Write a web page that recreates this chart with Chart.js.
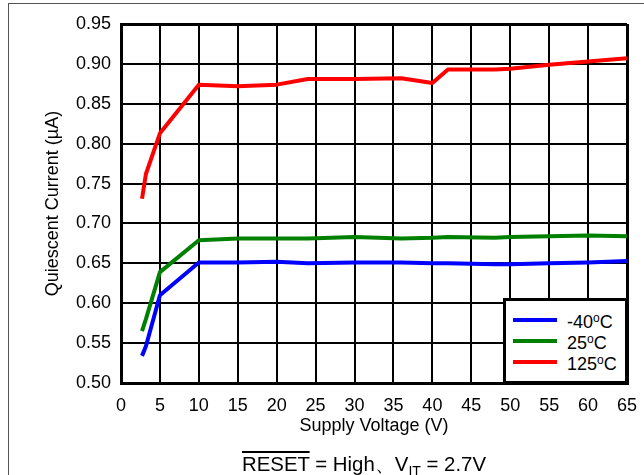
<!DOCTYPE html>
<html>
<head>
<meta charset="utf-8">
<script src="https://cdn.jsdelivr.net/npm/chart.js@4.4.0/dist/chart.umd.min.js"></script>
<style>
  html, body { margin: 0; padding: 0; background: #fff; }
  #wrap { position: relative; width: 644px; height: 475px; overflow: hidden;
          font-family: "Liberation Sans", Arial, sans-serif; color: #000; }
  #frame { position: absolute; left: 8px; top: 3px; width: 700px; height: 600px;
           border-left: 1px solid #555; border-top: 1px solid #555; }
  canvas { position: absolute; left: 0; top: 0; }
  #legend { position: absolute; left: 503px; top: 298px; width: 125px; height: 86px;
            box-sizing: border-box; border: 3px solid #000; background: #fff; }
  .swatch { position: absolute; left: 7px; width: 44px; height: 4px; }
  .lbl { position: absolute; left: 61px; font-size: 18px; line-height: 20px; white-space: nowrap; }
  .lbl sup { font-size: 12px; vertical-align: 6px; line-height: 0; }
  #caption { position: absolute; left: 0; top: 454px; width: 728px; text-align: center;
             font-size: 20.4px; line-height: 20px; white-space: nowrap; }
  #caption .ov { text-decoration: overline; }
  #caption sub { font-size: 14px; vertical-align: -5px; line-height: 0; }
</style>
</head>
<body>
<div id="wrap">
  <div id="frame"></div>
  <canvas id="chart" width="644" height="475"></canvas>
  <div id="legend"></div>
  <div id="caption"><span class="ov">RESET</span> = High、V<sub>IT</sub> = 2.7V</div>
</div>
<script>
// Supply voltage sweep (V)
const voltage = [2.7, 3.2, 5, 10, 15, 20, 24, 30, 36, 40, 42, 48, 50, 55, 60, 65];
// Quiescent current (µA) at each temperature
const iqMinus40 = [0.534, 0.546, 0.610, 0.651, 0.651, 0.652, 0.650, 0.651, 0.651, 0.650, 0.650, 0.649, 0.649, 0.650, 0.651, 0.653];
const iq25      = [0.565, 0.580, 0.639, 0.679, 0.681, 0.681, 0.681, 0.683, 0.681, 0.682, 0.683, 0.682, 0.683, 0.684, 0.685, 0.684];
const iq125     = [0.731, 0.762, 0.813, 0.874, 0.872, 0.874, 0.881, 0.881, 0.882, 0.876, 0.893, 0.893, 0.894, 0.899, 0.903, 0.907];

const temperatures = ['-40', '25', '125'];
const lineColors = ['#0000ff', '#008000', '#ff0000'];
const seriesValues = [iqMinus40, iq25, iq125];

const xTickValues = [0, 5, 10, 15, 20, 25, 30, 35, 40, 45, 50, 55, 60, 65];
const yTickValues = [0.50, 0.55, 0.60, 0.65, 0.70, 0.75, 0.80, 0.85, 0.90, 0.95];

const FONT = '"Liberation Sans", Arial, sans-serif';
Chart.defaults.font.family = FONT;
Chart.defaults.font.size = 18;
Chart.defaults.color = '#000';

const datasets = temperatures.map((t, i) => ({
  label: t + '°C',
  data: voltage.map((v, k) => ({ x: v, y: seriesValues[i][k] })),
  borderColor: lineColors[i],
  backgroundColor: lineColors[i],
  borderWidth: 4,
  pointRadius: 0,
  tension: 0,
  borderJoinStyle: 'round',
  fill: false
}));

const near = (a, b) => Math.abs(a - b) < 1e-6;

new Chart(document.getElementById('chart'), {
  type: 'line',
  data: { datasets },
  options: {
    responsive: false,
    animation: false,
    layout: { padding: { left: 40, right: 17, top: 24, bottom: 36 } },
    plugins: { legend: { display: false }, tooltip: { enabled: false } },
    scales: {
      x: {
        type: 'linear', min: 0, max: 65,
        afterBuildTicks: s => { s.ticks = xTickValues.map(v => ({ value: v })); },
        afterFit: s => { s.height = 56; s.paddingLeft = 0; s.paddingRight = 0; },
        grid: { color: '#000', drawTicks: false,
                lineWidth: c => (c.tick && (near(c.tick.value, 0) || near(c.tick.value, 65))) ? 3 : 2 },
        border: { display: true, color: '#000', width: 3 },
        ticks: { padding: 12, maxRotation: 0, autoSkip: false, callback: v => String(v) },
        title: { display: true, text: 'Supply Voltage (V)', padding: { top: 0, bottom: 2 } }
      },
      y: {
        type: 'linear', min: 0.5, max: 0.95,
        afterBuildTicks: s => { s.ticks = yTickValues.map(v => ({ value: v })); },
        afterFit: s => { s.width = 81; s.paddingTop = 0; s.paddingBottom = 0; },
        grid: { color: '#000', drawTicks: false,
                lineWidth: c => (c.tick && (near(c.tick.value, 0.5) || near(c.tick.value, 0.95))) ? 3 : 2 },
        border: { display: true, color: '#000', width: 3 },
        ticks: { padding: 10, callback: v => Number(v).toFixed(2) },
        title: { display: true, text: 'Quiescent Current (µA)', padding: { top: 2, bottom: 0 } }
      }
    }
  }
});

// Legend box inside the lower-right corner of the plot
const legend = document.getElementById('legend');
temperatures.forEach((t, i) => {
  const sw = document.createElement('div');
  sw.className = 'swatch';
  sw.style.top = (17 + 21 * i) + 'px';
  sw.style.background = lineColors[i];
  legend.appendChild(sw);
  const lb = document.createElement('div');
  lb.className = 'lbl';
  lb.style.top = (11 + 21 * i) + 'px';
  lb.innerHTML = t + '<sup>o</sup>C';
  legend.appendChild(lb);
});
</script>
</body>
</html>
